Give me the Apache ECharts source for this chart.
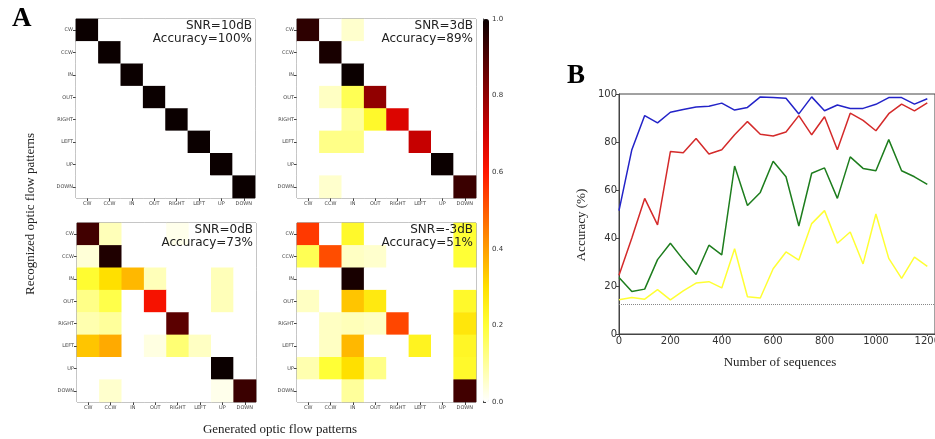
<!DOCTYPE html>
<html>
<head>
<meta charset="utf-8">
<script src="https://cdn.jsdelivr.net/npm/echarts@6/dist/echarts.min.js"></script>
<style>
  html, body { margin: 0; padding: 0; background: #fff; }
  #chart { width: 935px; height: 439px; }
</style>
</head>
<body>
<div id="chart"></div>
<script>
// confusion matrices: rows = recognized, cols = generated
const patterns = ['CW', 'CCW', 'IN', 'OUT', 'RIGHT', 'LEFT', 'UP', 'DOWN']

const snr10 = [
  [1, 0, 0, 0, 0, 0, 0, 0],
  [0, 1, 0, 0, 0, 0, 0, 0],
  [0, 0, 1, 0, 0, 0, 0, 0],
  [0, 0, 0, 1, 0, 0, 0, 0],
  [0, 0, 0, 0, 1, 0, 0, 0],
  [0, 0, 0, 0, 0, 1, 0, 0],
  [0, 0, 0, 0, 0, 0, 1, 0],
  [0, 0, 0, 0, 0, 0, 0, 1]
]
const snr3 = [
  [0.95, 0, 0.05, 0, 0, 0, 0, 0],
  [0, 0.98, 0, 0, 0, 0, 0, 0],
  [0, 0, 1.0, 0, 0, 0, 0, 0],
  [0, 0.06, 0.17, 0.80, 0, 0, 0, 0],
  [0, 0, 0.1, 0.22, 0.68, 0, 0, 0],
  [0, 0.12, 0.12, 0, 0, 0.72, 0, 0],
  [0, 0, 0, 0, 0, 0, 1.0, 0],
  [0, 0.05, 0, 0, 0, 0, 0, 0.93]
]
const snr0 = [
  [0.92, 0.07, 0, 0, 0.02, 0, 0, 0],
  [0.04, 0.97, 0, 0, 0, 0, 0, 0],
  [0.21, 0.3, 0.36, 0.07, 0, 0, 0.07, 0],
  [0.12, 0.18, 0, 0.62, 0, 0, 0.07, 0],
  [0.08, 0.1, 0, 0, 0.88, 0, 0, 0],
  [0.34, 0.38, 0, 0.03, 0.14, 0.06, 0, 0],
  [0, 0, 0, 0, 0, 0, 1.0, 0],
  [0, 0.05, 0, 0, 0, 0, 0.02, 0.93]
]
const snrM3 = [
  [0.55, 0, 0.22, 0, 0, 0, 0, 0.2],
  [0.17, 0.52, 0.06, 0.05, 0, 0, 0, 0.2],
  [0, 0, 0.98, 0, 0, 0, 0, 0],
  [0.06, 0, 0.34, 0.27, 0, 0, 0, 0.22],
  [0, 0.06, 0.07, 0.06, 0.53, 0, 0, 0.28],
  [0, 0.06, 0.36, 0, 0, 0.24, 0, 0.23],
  [0.08, 0.2, 0.3, 0.12, 0, 0, 0, 0.22],
  [0, 0, 0.1, 0, 0, 0, 0, 0.92]
]
const snrLabels = ['SNR=10dB', 'SNR=3dB', 'SNR=0dB', 'SNR=-3dB']
const accLabels = ['Accuracy=100%', 'Accuracy=89%', 'Accuracy=73%', 'Accuracy=51%']

// panel B: accuracy vs number of sequences
const sequences = [0, 50, 100, 150, 200, 250, 300, 350, 400, 450, 500, 550, 600,
  650, 700, 750, 800, 850, 900, 950, 1000, 1050, 1100, 1150, 1200]
const accBlue = [51.4, 76.8, 91, 88, 92.4, 93.5, 94.6, 94.9, 96.2, 93.3, 94.4, 98.8, 98.5,
  98.2, 91.7, 98.8, 93, 95.4, 94, 94, 95.7, 98.5, 98.5, 95.8, 98]
const accRed = [24.5, 40, 56.5, 45.5, 76, 75.5, 81.5, 75, 76.8, 83, 88.5, 83.2, 82.5,
  84.2, 91, 83, 90.5, 76.8, 92, 89, 84.7, 91.8, 95.8, 93, 96.3]
const accGreen = [23.5, 17.7, 18.7, 31, 37.8, 31, 24.8, 37, 33, 70, 53.5, 59, 72,
  65.5, 45, 67, 69.2, 56.5, 73.8, 69, 68, 81, 68, 65.5, 62.3]
const accYellow = [14.3, 15.2, 14.5, 18.5, 14.2, 18, 21.2, 21.8, 19.2, 35.5, 15.5, 15, 27.2,
  34.2, 30.8, 46, 51.4, 37.8, 42.5, 29.2, 50, 31.5, 23.2, 32, 28.2]
const chanceLevel = 12.5

// hot_r colormap
const hotR = ['#ffffff', '#ffff9b', '#ffff36', '#ffe000', '#ff9d00', '#ff5a00',
  '#ff1700', '#d30000', '#910000', '#4e0000', '#0b0000']

const matrices = [snr10, snr3, snr0, snrM3]
const boxes = [
  { left: 76, top: 19 },
  { left: 297, top: 19 },
  { left: 77, top: 223 },
  { left: 297, top: 223 }
]
const size = 179
const serif = 'Liberation Serif'
const sans = 'DejaVu Sans'

const toCells = (m) => {
  const out = []
  m.forEach((row, r) => row.forEach((v, c) => out.push([c, r, v])))
  return out
}
const toLine = (ys) => sequences.map((x, i) => [x, ys[i]])

const grids = boxes.map(b => ({
  left: b.left, top: b.top, width: size, height: size, outerBoundsMode: 'none',
  show: true, borderColor: '#666', borderWidth: 1, backgroundColor: 'transparent'
}))
grids.push({ left: 619, top: 94, width: 316, height: 240, outerBoundsMode: 'none',
  show: true, borderColor: '#444', borderWidth: 1 })
grids.push({ left: 483, top: 19, width: 6, height: 383, outerBoundsMode: 'none' })

const smallAxis = {
  axisLine: { show: false },
  axisTick: { show: true, alignWithLabel: true, length: 3, lineStyle: { color: '#444' } },
  axisLabel: { fontSize: 5, color: '#444', margin: 3, fontFamily: sans },
  splitLine: { show: false }
}

const xAxes = boxes.map((b, i) => Object.assign({
  type: 'category', gridIndex: i, data: patterns
}, smallAxis))
const yAxes = boxes.map((b, i) => Object.assign({
  type: 'category', gridIndex: i, data: patterns, inverse: true
}, smallAxis))

xAxes.push({
  type: 'value', gridIndex: 4, min: 0, max: 1230, interval: 200,
  axisLine: { lineStyle: { color: '#444' } },
  axisTick: { length: 2, lineStyle: { color: '#444' } },
  axisLabel: { fontSize: 10, color: '#333', margin: 2, showMaxLabel: false, fontFamily: sans,
    formatter: v => String(v) },
  splitLine: { show: false }
})
yAxes.push({
  type: 'value', gridIndex: 4, min: 0, max: 100, interval: 20,
  axisLine: { show: true, lineStyle: { color: '#444' } },
  axisTick: { show: true, length: 3, lineStyle: { color: '#444' } },
  axisLabel: { fontSize: 10, color: '#333', margin: 2, fontFamily: sans },
  splitLine: { show: false }
})
// colorbar axis
xAxes.push({ type: 'value', gridIndex: 5, show: false, min: 0, max: 1 })
yAxes.push({
  type: 'value', gridIndex: 5, position: 'right', min: 0, max: 1, interval: 0.2,
  axisLine: { show: true, lineStyle: { color: '#444' } },
  axisTick: { show: true, length: 3, lineStyle: { color: '#444' } },
  axisLabel: { fontSize: 7, color: '#333', margin: 3, fontFamily: sans, formatter: v => v.toFixed(1) },
  splitLine: { show: false }
})

const series = matrices.map((m, i) => ({
  type: 'heatmap', xAxisIndex: i, yAxisIndex: i,
  data: toCells(m), silent: true, emphasis: { disabled: true }
}))
const lineSeries = [
  { name: 'SNR=10dB', ys: accBlue, color: '#2323c8' },
  { name: 'SNR=3dB', ys: accRed, color: '#d42a2a' },
  { name: 'SNR=0dB', ys: accGreen, color: '#1d7d1d' },
  { name: 'SNR=-3dB', ys: accYellow, color: '#ffff33' }
]
lineSeries.forEach((s, i) => {
  const item = {
    type: 'line', name: s.name, xAxisIndex: 4, yAxisIndex: 4,
    data: toLine(s.ys), showSymbol: false, silent: true,
    lineStyle: { color: s.color, width: 1.5 }, itemStyle: { color: s.color }
  }
  if (i === 0) {
    item.markLine = {
      silent: true, symbol: 'none', label: { show: false },
      lineStyle: { color: '#888', type: 'dotted', width: 1 },
      data: [{ yAxis: chanceLevel }]
    }
  }
  series.push(item)
})

const graphics = [
  { type: 'text', left: 12, top: 6, z: 100, style: { text: 'A', font: 'bold 27px ' + serif, fill: '#000' } },
  { type: 'text', left: 567, top: 63, z: 100, style: { text: 'B', font: 'bold 27px ' + serif, fill: '#000' } },
  { type: 'text', x: 31, y: 214, rotation: Math.PI / 2, z: 100,
    style: { text: 'Recognized optic flow patterns', font: '13px ' + serif, fill: '#222', align: 'center', verticalAlign: 'middle' } },
  { type: 'text', x: 280, y: 430, z: 100,
    style: { text: 'Generated optic flow patterns', font: '13px ' + serif, fill: '#222', align: 'center', verticalAlign: 'middle' } },
  { type: 'text', x: 582, y: 225, rotation: Math.PI / 2, z: 100,
    style: { text: 'Accuracy (%)', font: '13px ' + serif, fill: '#222', align: 'center', verticalAlign: 'middle' } },
  { type: 'text', x: 780, y: 363, z: 100,
    style: { text: 'Number of sequences', font: '13px ' + serif, fill: '#222', align: 'center', verticalAlign: 'middle' } }
]
boxes.forEach((b, i) => {
  graphics.push({ type: 'text', x: b.left + size - 3, y: b.top + 6.5, z: 100,
    style: { text: snrLabels[i], font: '12px ' + sans, fill: '#222', align: 'right', verticalAlign: 'middle' } })
  graphics.push({ type: 'text', x: b.left + size - 3, y: b.top + 19.5, z: 100,
    style: { text: accLabels[i], font: '12px ' + sans, fill: '#222', align: 'right', verticalAlign: 'middle' } })
})

const myChart = echarts.init(document.getElementById('chart'))
myChart.setOption({
  animation: false,
  textStyle: { fontFamily: sans },
  grid: grids,
  xAxis: xAxes,
  yAxis: yAxes,
  visualMap: {
    type: 'continuous', seriesIndex: [0, 1, 2, 3], min: 0, max: 1,
    show: true, calculable: false, orient: 'vertical',
    left: 483, top: 19, itemWidth: 6, itemHeight: 383, padding: 0,
    text: null, inRange: { color: hotR }, hoverLink: false
  },
  graphic: graphics,
  series: series
})
</script>
</body>
</html>
